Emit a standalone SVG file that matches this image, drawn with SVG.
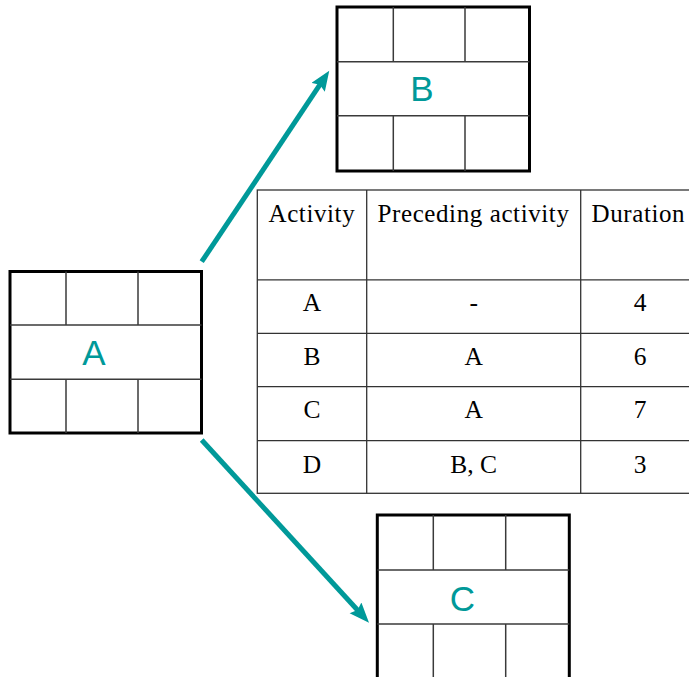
<svg xmlns="http://www.w3.org/2000/svg" width="689" height="677" viewBox="0 0 689 677">
<style>
.outer{fill:#fff;stroke:#000;stroke-width:3}
.inner{stroke:#3a3a3a;stroke-width:1.5;fill:none}
.lbl{font-family:"Liberation Sans",Arial,sans-serif;font-size:35px;fill:#009999;text-anchor:middle}
.tl{stroke:#333;stroke-width:1.3;fill:none}
.th{font-family:"Liberation Serif","Times New Roman",serif;font-size:25px;letter-spacing:0.6px;fill:#000}
.td{font-family:"Liberation Serif","Times New Roman",serif;font-size:25.5px;fill:#000;text-anchor:middle}
.arr{stroke:#009999;stroke-width:5;fill:none}
</style>
<defs>
<marker id="ah" markerUnits="userSpaceOnUse" markerWidth="22" markerHeight="18" refX="8" refY="8" orient="auto">
<path d="M0,0 L20,8 L0,16 L3,8 z" fill="#009999"/>
</marker>
</defs>
<g id="table">
<rect x="257.3" y="190" width="442" height="303.3" class="tl"/>
<line x1="366.7" y1="190" x2="366.7" y2="493.3" class="tl"/>
<line x1="580.7" y1="190" x2="580.7" y2="493.3" class="tl"/>
<line x1="257.3" y1="279.8" x2="700" y2="279.8" class="tl"/>
<line x1="257.3" y1="333.3" x2="700" y2="333.3" class="tl"/>
<line x1="257.3" y1="386.7" x2="700" y2="386.7" class="tl"/>
<line x1="257.3" y1="440.7" x2="700" y2="440.7" class="tl"/>
<text x="268.5" y="222" class="th">Activity</text>
<text x="377.5" y="222" class="th">Preceding activity</text>
<text x="591.5" y="222" class="th">Duration</text>
<text x="312" y="310.5" class="td">A</text>
<text x="473.7" y="310.5" class="td">-</text>
<text x="640" y="310.5" class="td">4</text>
<text x="312" y="365" class="td">B</text>
<text x="473.7" y="365" class="td">A</text>
<text x="640" y="365" class="td">6</text>
<text x="312" y="418.3" class="td">C</text>
<text x="473.7" y="418.3" class="td">A</text>
<text x="640" y="418.3" class="td">7</text>
<text x="312" y="472.5" class="td">D</text>
<text x="473.7" y="472.5" class="td">B, C</text>
<text x="640" y="472.5" class="td">3</text>
</g>
<g id="nodeA">
<rect x="10" y="271.5" width="191.5" height="161.5" class="outer"/>
<line x1="10" y1="325" x2="201.5" y2="325" class="inner"/>
<line x1="10" y1="379.3" x2="201.5" y2="379.3" class="inner"/>
<line x1="66" y1="271.5" x2="66" y2="325" class="inner"/>
<line x1="138" y1="271.5" x2="138" y2="325" class="inner"/>
<line x1="66" y1="379.3" x2="66" y2="433" class="inner"/>
<line x1="138" y1="379.3" x2="138" y2="433" class="inner"/>
<text x="94" y="365" class="lbl">A</text>
</g>
<g id="nodeB">
<rect x="337" y="7" width="192.5" height="164" class="outer"/>
<line x1="337" y1="61.7" x2="529.5" y2="61.7" class="inner"/>
<line x1="337" y1="115.7" x2="529.5" y2="115.7" class="inner"/>
<line x1="393.3" y1="7" x2="393.3" y2="61.7" class="inner"/>
<line x1="465" y1="7" x2="465" y2="61.7" class="inner"/>
<line x1="393.3" y1="115.7" x2="393.3" y2="171" class="inner"/>
<line x1="465" y1="115.7" x2="465" y2="171" class="inner"/>
<text x="422" y="101" class="lbl">B</text>
</g>
<g id="nodeC">
<rect x="377.3" y="515" width="192" height="164" class="outer"/>
<line x1="377.3" y1="570" x2="569.3" y2="570" class="inner"/>
<line x1="377.3" y1="624" x2="569.3" y2="624" class="inner"/>
<line x1="433.3" y1="515" x2="433.3" y2="570" class="inner"/>
<line x1="505.7" y1="515" x2="505.7" y2="570" class="inner"/>
<line x1="433.3" y1="624" x2="433.3" y2="679" class="inner"/>
<line x1="505.7" y1="624" x2="505.7" y2="679" class="inner"/>
<text x="462.5" y="611" class="lbl">C</text>
</g>
<g id="connectors">
<line x1="201.7" y1="261.7" x2="322.6" y2="80.7" class="arr" marker-end="url(#ah)"/>
<line x1="201.7" y1="440" x2="360.9" y2="613.8" class="arr" marker-end="url(#ah)"/>
</g>
</svg>
